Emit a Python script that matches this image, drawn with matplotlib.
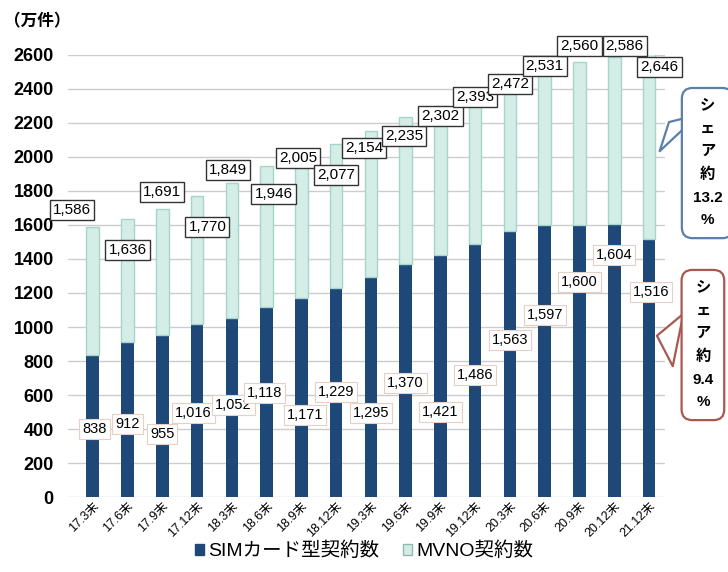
import numpy as np
import matplotlib.pyplot as plt
from matplotlib.patches import Patch

plt.rcParams['font.family'] = ['Liberation Sans', 'Noto Sans CJK JP', 'DejaVu Sans']

# data
periods = ['17.3末', '17.6末', '17.9末', '17.12末', '18.3末', '18.6末', '18.9末',
           '18.12末', '19.3末', '19.6末', '19.9末', '19.12末', '20.3末', '20.6末',
           '20.9末', '20.12末', '21.12末']
mvno_total = [1586, 1636, 1691, 1770, 1849, 1946, 2005, 2077, 2154, 2235,
              2302, 2393, 2472, 2531, 2560, 2586, 2646]
sim_card = [838, 912, 955, 1016, 1052, 1118, 1171, 1229, 1295, 1370,
            1421, 1486, 1563, 1597, 1600, 1604, 1516]

# where the boxed labels sit (data units)
total_lbl_y = [1688, 1452, 1793, 1588, 1923, 1782, 1993, 1893, 2052, 2123,
               2240, 2352, 2428, 2534, 2652, 2652, 2528]
total_lbl_dx = [-0.6, 0, 0, 0.3, -0.1, 0.2, -0.1, 0, -0.2, -0.05,
                0, 0, 0, 0, 0, 0.3, 0.3]
sim_lbl_y = [400, 429, 370, 494, 540, 610, 482, 617, 494, 670,
             500, 717, 923, 1070, 1264, 1423, 1205]
sim_lbl_dx = [0.05, 0, 0, -0.1, 0.05, -0.05, 0.1, 0, 0, 0, 0, 0, 0, 0, 0, 0, 0.05]

x = np.arange(len(periods))

fig = plt.figure(figsize=(7.28, 5.72), dpi=100)
ax = fig.add_axes([0.093, 0.131, 0.82, 0.773])

navy = '#1e4878'
light = '#d4ede7'
w = 0.36
ax.bar(x, sim_card, w, color=navy, zorder=2)
ax.bar(x, np.array(mvno_total) - np.array(sim_card), w, bottom=sim_card,
       color=light, edgecolor='#a6d5ca', linewidth=1.0, zorder=2)

for i in range(len(x)):
    ax.text(x[i] + total_lbl_dx[i], total_lbl_y[i], f'{mvno_total[i]:,}',
            ha='center', va='center', fontsize=11, zorder=5 + i, clip_on=False,
            bbox=dict(boxstyle='square,pad=0.2', fc='white', ec='#333333', lw=1.0))
    ax.text(x[i] + sim_lbl_dx[i], sim_lbl_y[i], f'{sim_card[i]:,}',
            ha='center', va='center', fontsize=10.5, zorder=5 + i, clip_on=False,
            bbox=dict(boxstyle='square,pad=0.2', fc='white', ec='#e6cfc4', lw=0.8))

ax.set_xlim(-0.72, 16.45)
ax.set_ylim(0, 2600)
ax.set_yticks(range(0, 2601, 200))
ax.tick_params(axis='y', length=0, labelsize=13, pad=10)
for t in ax.get_yticklabels():
    t.set_fontweight('bold')
ax.tick_params(axis='x', length=0, labelsize=9, pad=2)
ax.set_xticks(x)
ax.set_xticklabels(periods, rotation=45, ha='right', rotation_mode='anchor')
ax.grid(axis='y', color='#cccccc', linewidth=1.0, zorder=0)
for s in ax.spines.values():
    s.set_visible(False)

fig.text(0.006, 0.962, '（万件）', fontsize=12, fontweight='bold', ha='left', va='center')

# share callouts
ax.annotate('シ\nェ\nア\n約\n13.2\n%', xy=(16.52, 2217), xytext=(17.68, 1964),
            ha='center', va='center', fontsize=11, fontweight='bold',
            linespacing=1.8, annotation_clip=False, zorder=30,
            bbox=dict(boxstyle='round,pad=0.7', fc='white', ec='#5a7fa8', lw=1.6),
            arrowprops=dict(arrowstyle='wedge,tail_width=3.5,shrink_factor=0.5',
                            fc='white', ec='#5a7fa8', lw=1.6))
ax.annotate('シ\nェ\nア\n約\n9.4\n%', xy=(16.15, 952), xytext=(17.55, 894),
            ha='center', va='center', fontsize=11, fontweight='bold',
            linespacing=1.8, annotation_clip=False, zorder=30,
            bbox=dict(boxstyle='round,pad=0.7', fc='white', ec='#a8584f', lw=1.6),
            arrowprops=dict(arrowstyle='wedge,tail_width=3.5,shrink_factor=0.5',
                            fc='white', ec='#a8584f', lw=1.6))

handles = [Patch(color=navy, label='SIMカード型契約数'),
           Patch(fc=light, ec='#8fb8ae', label='MVNO契約数')]
fig.legend(handles=handles, loc='lower center', bbox_to_anchor=(0.5, -0.01),
           ncol=2, frameon=False, fontsize=14, handlelength=0.5,
           handleheight=0.5, handletextpad=0.2, columnspacing=1.2)

fig.savefig('out.png', dpi=100)
